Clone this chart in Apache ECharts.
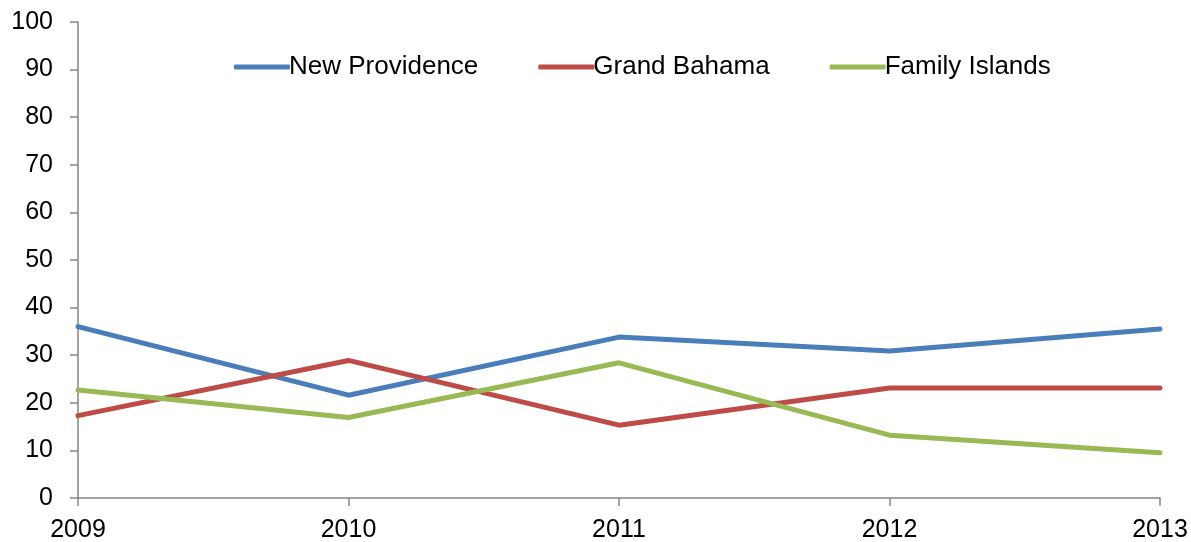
<!DOCTYPE html>
<html>
<head>
<meta charset="utf-8">
<script src="https://cdn.jsdelivr.net/npm/echarts@6/dist/echarts.min.js"></script>
<style>
  html, body { margin: 0; padding: 0; background: #fff; }
  #chart { width: 1191px; height: 542px; }
</style>
</head>
<body>
<div id="chart"></div>
<script>
const years = ['2009', '2010', '2011', '2012', '2013']
const newProvidence = [36.0, 21.6, 33.8, 30.9, 35.5]
const grandBahama = [17.3, 28.9, 15.3, 23.1, 23.1]
const familyIslands = [22.7, 16.9, 28.4, 13.2, 9.5]

const font = '"Liberation Sans", Arial, sans-serif'
const axisColor = '#868686'

const chart = echarts.init(document.getElementById('chart'))

function lineSeries(name, data, color) {
  return {
    name: name,
    type: 'line',
    data: data,
    symbol: 'none',
    color: color,
    lineStyle: { width: 5, color: color, cap: 'round' },
    animation: false
  }
}

chart.setOption({
  backgroundColor: '#ffffff',
  textStyle: { fontFamily: font },
  legend: {
    top: 49,
    left: 229,
    icon: 'roundRect',
    itemWidth: 56,
    itemHeight: 5,
    itemGap: 60,
    textStyle: { fontFamily: font, fontSize: 26, color: '#000', padding: [0, 0, 0, -6] },
    data: ['New Providence', 'Grand Bahama', 'Family Islands']
  },
  grid: {
    left: 78,
    right: 31,
    top: 22,
    bottom: 44,
    containLabel: false,
    outerBoundsMode: 'none'
  },
  xAxis: {
    type: 'category',
    data: years,
    boundaryGap: false,
    axisLine: { lineStyle: { color: axisColor, width: 1.5 } },
    axisTick: { show: true, length: 8, lineStyle: { color: axisColor, width: 1.5 } },
    axisLabel: { fontFamily: font, fontSize: 25, color: '#000', margin: 20 },
    splitLine: { show: false }
  },
  yAxis: {
    type: 'value',
    min: 0,
    max: 100,
    interval: 10,
    axisLine: { show: true, lineStyle: { color: axisColor, width: 1.5 } },
    axisTick: { show: true, length: 8, lineStyle: { color: axisColor, width: 1.5 } },
    axisLabel: { fontFamily: font, fontSize: 25, color: '#000', margin: 25 },
    splitLine: { show: false }
  },
  series: [
    lineSeries('New Providence', newProvidence, '#4A7EBB'),
    lineSeries('Grand Bahama', grandBahama, '#BE4B48'),
    lineSeries('Family Islands', familyIslands, '#98B954')
  ]
})
</script>
</body>
</html>
